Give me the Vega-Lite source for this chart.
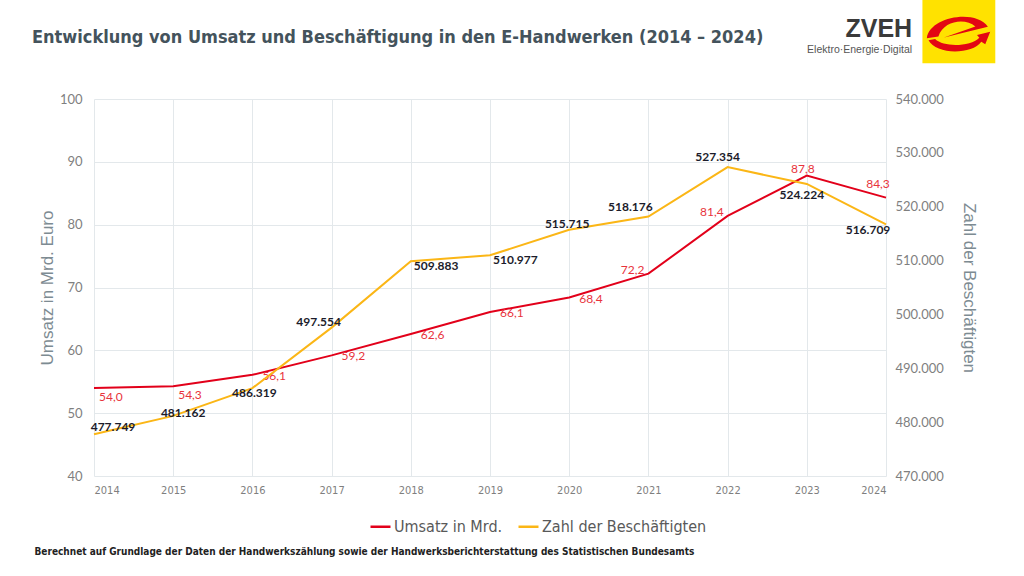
{
  "$schema": "https://vega.github.io/schema/vega-lite/v6.json",
  "width": 792,
  "height": 377,
  "autosize": {"type": "none"},
  "padding": {"left": 94, "top": 99, "right": 138, "bottom": 100},
  "background": "#ffffff",
  "config": {
    "view": {"stroke": null},
    "locale": {"number": {"decimal": ",", "thousands": ".", "grouping": [3], "currency": ["", " €"]}}
  },
  "data": {
    "values": [
      {"year": 2014, "umsatz": 54.0, "beschaeftigte": 477749},
      {"year": 2015, "umsatz": 54.3, "beschaeftigte": 481162},
      {"year": 2016, "umsatz": 56.1, "beschaeftigte": 486319},
      {"year": 2017, "umsatz": 59.2, "beschaeftigte": 497554},
      {"year": 2018, "umsatz": 62.6, "beschaeftigte": 509883},
      {"year": 2019, "umsatz": 66.1, "beschaeftigte": 510977},
      {"year": 2020, "umsatz": 68.4, "beschaeftigte": 515715},
      {"year": 2021, "umsatz": 72.2, "beschaeftigte": 518176},
      {"year": 2022, "umsatz": 81.4, "beschaeftigte": 527354},
      {"year": 2023, "umsatz": 87.8, "beschaeftigte": 524224},
      {"year": 2024, "umsatz": 84.3, "beschaeftigte": 516709}
    ]
  },
  "encoding": {
    "x": {
      "field": "year",
      "type": "quantitative",
      "scale": {"domain": [2014, 2024], "nice": false, "zero": false},
      "axis": {
        "values": [2014, 2015, 2016, 2017, 2018, 2019, 2020, 2021, 2022, 2023, 2024],
        "format": "d",
        "grid": true,
        "gridColor": "#e3e8eb",
        "domain": false,
        "ticks": false,
        "labelPadding": 8,
        "labelFont": "Liberation Sans Narrow, DejaVu Sans Condensed, Liberation Sans",
        "labelFontSize": 11,
        "labelColor": "#7f7f7f",
        "title": "Berechnet auf Grundlage der Daten der Handwerkszählung sowie der Handwerksberichterstattung des Statistischen Bundesamts",
        "titleX": -60,
        "titleY": 75,
        "titleAlign": "left",
        "titleAnchor": "start",
        "titleBaseline": "middle",
        "titleFont": "Liberation Sans Narrow, DejaVu Sans Condensed, Liberation Sans",
        "titleFontSize": 10,
        "titleFontWeight": "bold",
        "titleColor": "#222222"
      }
    }
  },
  "layer": [
    {
      "encoding": {
        "y": {
          "field": "umsatz",
          "type": "quantitative",
          "scale": {"domain": [40, 100], "nice": false, "zero": false},
          "axis": {
            "orient": "left",
            "values": [40, 50, 60, 70, 80, 90, 100],
            "grid": true,
            "gridColor": "#e3e8eb",
            "domain": false,
            "ticks": false,
            "labelPadding": 12,
            "labelFont": "Lato",
            "labelFontSize": 13,
            "labelColor": "#7f7f7f",
            "title": "Umsatz in Mrd. Euro",
            "titleFont": "Liberation Sans",
            "titleFontSize": 17,
            "titleFontWeight": "normal",
            "titleColor": "#7d8b92",
            "titlePadding": 3
          }
        }
      },
      "layer": [
        {
          "mark": {"type": "line", "strokeWidth": 2},
          "encoding": {
            "color": {
              "datum": "Umsatz in Mrd.",
              "type": "nominal",
              "scale": {"domain": ["Umsatz in Mrd.", "Zahl der Beschäftigten"], "range": ["#e2001a", "#fbb616"]},
              "legend": {
                "orient": "none",
                "direction": "horizontal",
                "legendX": 275,
                "legendY": 416,
                "title": null,
                "symbolType": "stroke",
                "symbolSize": 400,
                "symbolStrokeWidth": 2.5,
                "labelFont": "Liberation Sans Narrow, DejaVu Sans Condensed, Liberation Sans",
                "labelFontSize": 16,
                "labelColor": "#595959",
                "labelOffset": 2,
                "labelLimit": 400,
                "columnPadding": 10
              }
            }
          }
        },
        {
          "transform": [{"filter": {"field": "year", "oneOf": [2016, 2017, 2018, 2019, 2020]}}],
          "mark": {"type": "text", "align": "left", "baseline": "middle", "dx": 10, "dy": 1, "font": "Lato", "fontSize": 12, "color": "#e8333c"},
          "encoding": {"text": {"field": "umsatz", "type": "quantitative", "format": ".1f"}}
        },
        {
          "transform": [{"filter": {"field": "year", "oneOf": [2014, 2015]}}],
          "mark": {"type": "text", "align": "left", "baseline": "middle", "dx": 5, "dy": 9, "font": "Lato", "fontSize": 12, "color": "#e8333c"},
          "encoding": {"text": {"field": "umsatz", "type": "quantitative", "format": ".1f"}}
        },
        {
          "transform": [{"filter": {"field": "year", "oneOf": [2021, 2022]}}],
          "mark": {"type": "text", "align": "right", "baseline": "middle", "dx": -4, "dy": -4, "font": "Lato", "fontSize": 12, "color": "#e8333c"},
          "encoding": {"text": {"field": "umsatz", "type": "quantitative", "format": ".1f"}}
        },
        {
          "transform": [{"filter": {"field": "year", "equal": 2023}}],
          "mark": {"type": "text", "align": "center", "baseline": "middle", "dx": -4, "dy": -7, "font": "Lato", "fontSize": 12, "color": "#e8333c"},
          "encoding": {"text": {"field": "umsatz", "type": "quantitative", "format": ".1f"}}
        },
        {
          "transform": [{"filter": {"field": "year", "equal": 2024}}],
          "mark": {"type": "text", "align": "center", "baseline": "middle", "dx": -8, "dy": -14, "font": "Lato", "fontSize": 12, "color": "#e8333c"},
          "encoding": {"text": {"field": "umsatz", "type": "quantitative", "format": ".1f"}}
        },
        {
          "transform": [{"filter": {"field": "year", "equal": 2024}}],
          "mark": {"type": "text", "text": "Entwicklung von Umsatz und Beschäftigung in den E-Handwerken (2014 – 2024)", "align": "left", "baseline": "alphabetic", "font": "Liberation Sans Narrow, DejaVu Sans Condensed, Liberation Sans", "fontSize": 18, "fontWeight": "bold", "color": "#44535c"},
          "encoding": {
            "x": {"datum": 2013.217, "type": "quantitative"},
            "y": {"datum": 108.9, "type": "quantitative"}
          }
        },
        {
          "transform": [{"filter": {"field": "year", "equal": 2024}}],
          "mark": {"type": "rect", "color": "#ffe200"},
          "encoding": {
            "x": {"datum": 2024.46, "type": "quantitative"},
            "x2": {"datum": 2025.38},
            "y": {"datum": 115.8, "type": "quantitative"},
            "y2": {"datum": 105.7}
          }
        },
        {
          "transform": [{"filter": {"field": "year", "equal": 2024}}],
          "mark": {
            "type": "point",
            "filled": true,
            "opacity": 1,
            "color": "#e30613",
            "size": 4356,
            "shape": "M -0.97 0.2 C -0.9 -0.45 0.5 -0.7 0.88 -0.15 L -0.45 0.17 L 0.5 -0.16 C 0.2 -0.42 -0.45 -0.35 -0.62 0.14 Z M -0.92 0.26 C -0.7 0.7 0.4 0.7 0.68 0.3 L 0.8 0.38 L 0.95 0.0 L 0.55 0.1 L 0.62 0.18 C 0.35 0.45 -0.45 0.48 -0.72 0.22 Z"
          },
          "encoding": {
            "x": {"datum": 2024.92, "type": "quantitative"},
            "y": {"datum": 110.7, "type": "quantitative"}
          }
        },
        {
          "transform": [{"filter": {"field": "year", "equal": 2024}}],
          "mark": {"type": "text", "text": "ZVEH", "align": "right", "baseline": "alphabetic", "font": "Liberation Sans", "fontSize": 25, "fontWeight": "bold", "color": "#3a3a3a"},
          "encoding": {
            "x": {"datum": 2024.33, "type": "quantitative"},
            "y": {"datum": 109.9, "type": "quantitative"}
          }
        },
        {
          "transform": [{"filter": {"field": "year", "equal": 2024}}],
          "mark": {"type": "text", "text": "Elektro·Energie·Digital", "align": "right", "baseline": "alphabetic", "font": "Liberation Sans", "fontSize": 10.5, "color": "#555555"},
          "encoding": {
            "x": {"datum": 2024.33, "type": "quantitative"},
            "y": {"datum": 107.4, "type": "quantitative"}
          }
        }
      ]
    },
    {
      "encoding": {
        "y": {
          "field": "beschaeftigte",
          "type": "quantitative",
          "scale": {"domain": [470000, 540000], "nice": false, "zero": false},
          "axis": {
            "orient": "right",
            "values": [470000, 480000, 490000, 500000, 510000, 520000, 530000, 540000],
            "format": ",d",
            "grid": false,
            "domain": false,
            "ticks": false,
            "labelPadding": 9,
            "labelFont": "Lato",
            "labelFontSize": 13,
            "labelColor": "#7f7f7f",
            "title": "Zahl der Beschäftigten",
            "titleFont": "Liberation Sans",
            "titleFontSize": 17,
            "titleFontWeight": "normal",
            "titleColor": "#7d8b92",
            "titlePadding": 16
          }
        }
      },
      "layer": [
        {
          "mark": {"type": "line", "strokeWidth": 2},
          "encoding": {
            "color": {"datum": "Zahl der Beschäftigten", "type": "nominal"}
          }
        },
        {
          "transform": [{"filter": {"field": "year", "equal": 2014}}],
          "mark": {"type": "text", "align": "center", "baseline": "middle", "dx": 19, "dy": -7, "font": "Lato", "fontSize": 12, "fontWeight": "bold", "color": "#1c1c2b"},
          "encoding": {"text": {"field": "beschaeftigte", "type": "quantitative", "format": ",d"}}
        },
        {
          "transform": [{"filter": {"field": "year", "equal": 2015}}],
          "mark": {"type": "text", "align": "center", "baseline": "middle", "dx": 10, "dy": -3, "font": "Lato", "fontSize": 12, "fontWeight": "bold", "color": "#1c1c2b"},
          "encoding": {"text": {"field": "beschaeftigte", "type": "quantitative", "format": ",d"}}
        },
        {
          "transform": [{"filter": {"field": "year", "equal": 2016}}],
          "mark": {"type": "text", "align": "center", "baseline": "middle", "dx": 2, "dy": 5, "font": "Lato", "fontSize": 12, "fontWeight": "bold", "color": "#1c1c2b"},
          "encoding": {"text": {"field": "beschaeftigte", "type": "quantitative", "format": ",d"}}
        },
        {
          "transform": [{"filter": {"field": "year", "equal": 2017}}],
          "mark": {"type": "text", "align": "center", "baseline": "middle", "dx": -13, "dy": -6, "font": "Lato", "fontSize": 12, "fontWeight": "bold", "color": "#1c1c2b"},
          "encoding": {"text": {"field": "beschaeftigte", "type": "quantitative", "format": ",d"}}
        },
        {
          "transform": [{"filter": {"field": "year", "oneOf": [2018, 2019]}}],
          "mark": {"type": "text", "align": "left", "baseline": "middle", "dx": 3, "dy": 5, "font": "Lato", "fontSize": 12, "fontWeight": "bold", "color": "#1c1c2b"},
          "encoding": {"text": {"field": "beschaeftigte", "type": "quantitative", "format": ",d"}}
        },
        {
          "transform": [{"filter": {"field": "year", "equal": 2020}}],
          "mark": {"type": "text", "align": "center", "baseline": "middle", "dx": -2, "dy": -6, "font": "Lato", "fontSize": 12, "fontWeight": "bold", "color": "#1c1c2b"},
          "encoding": {"text": {"field": "beschaeftigte", "type": "quantitative", "format": ",d"}}
        },
        {
          "transform": [{"filter": {"field": "year", "equal": 2021}}],
          "mark": {"type": "text", "align": "center", "baseline": "middle", "dx": -18, "dy": -10, "font": "Lato", "fontSize": 12, "fontWeight": "bold", "color": "#1c1c2b"},
          "encoding": {"text": {"field": "beschaeftigte", "type": "quantitative", "format": ",d"}}
        },
        {
          "transform": [{"filter": {"field": "year", "equal": 2022}}],
          "mark": {"type": "text", "align": "center", "baseline": "middle", "dx": -10, "dy": -10, "font": "Lato", "fontSize": 12, "fontWeight": "bold", "color": "#1c1c2b"},
          "encoding": {"text": {"field": "beschaeftigte", "type": "quantitative", "format": ",d"}}
        },
        {
          "transform": [{"filter": {"field": "year", "equal": 2023}}],
          "mark": {"type": "text", "align": "center", "baseline": "middle", "dx": -5, "dy": 11, "font": "Lato", "fontSize": 12, "fontWeight": "bold", "color": "#1c1c2b"},
          "encoding": {"text": {"field": "beschaeftigte", "type": "quantitative", "format": ",d"}}
        },
        {
          "transform": [{"filter": {"field": "year", "equal": 2024}}],
          "mark": {"type": "text", "align": "center", "baseline": "middle", "dx": -18, "dy": 6, "font": "Lato", "fontSize": 12, "fontWeight": "bold", "color": "#1c1c2b"},
          "encoding": {"text": {"field": "beschaeftigte", "type": "quantitative", "format": ",d"}}
        }
      ]
    }
  ],
  "resolve": {"scale": {"y": "independent"}, "axis": {"y": "independent"}}
}
